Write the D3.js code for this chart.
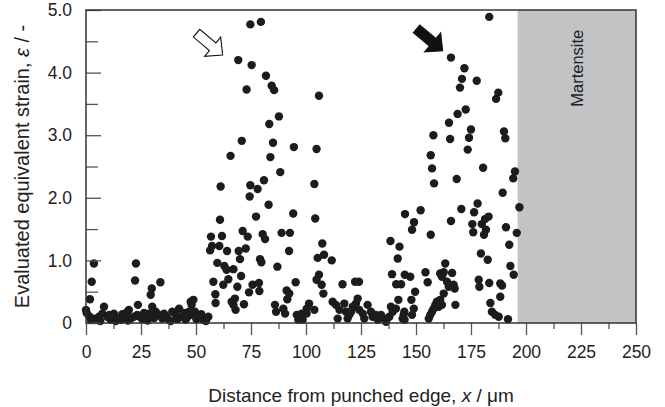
<!DOCTYPE html>
<html lang="en">
<head>
    <meta charset="UTF-8">
    <title>strain-scatter</title>
    <script src="https://cdn.jsdelivr.net/npm/d3@7"></script>
    <style>
        body { margin: 0; background: #fff; }
        svg { font-family: "Liberation Sans", Arial, sans-serif; }
    </style>
</head>
<body>
    <svg class="chart"></svg>
</body>
<script>
    // [distance from punched edge (um), equivalent strain]
    var edgeZone = [
        [0, 0.21], [0.3, 0.16], [1.8, 0.38], [2.6, 0.66], [3.6, 0.95], [1.4, 0.11], [2.2, 0.05], [3.6, 0.07],
        [5.9, 0.1], [6.5, 0.03], [7.4, 0.15], [8.2, 0.26], [9.7, 0.1], [10.5, 0.13], [11.2, 0.05], [12.7, 0.15],
        [13.5, 0.03], [14.2, 0.07], [15.8, 0.05], [16.5, 0.14], [17.3, 0.1], [18.8, 0.18], [19, 0.04], [19.5, 0.21],
        [20.3, 0.07], [21.8, 0.1], [22.3, 0.68], [22.7, 0.95], [23.3, 0.13], [23.6, 0.29], [24.5, 0.1], [25.6, 0.06],
        [26.4, 0.16], [27.1, 0.1], [28, 0.04], [28.6, 0.15], [29.4, 0.45], [29.9, 0.55], [30.1, 0.26], [31, 0.08],
        [31.7, 0.18], [33.2, 0.13], [33.8, 0.65], [34.7, 0.07], [35.5, 0.15], [36.5, 0.1], [37.7, 0.05], [38.5, 0.03],
        [39.2, 0.18], [40.8, 0.13], [41.5, 0.06], [42.3, 0.23], [43.8, 0.1], [44.5, 0.16], [45.3, 0.05], [46, 0.09],
        [46.8, 0.18], [47.6, 0.34], [48.3, 0.13], [48, 0.29], [48.8, 0.37], [49.5, 0.18], [50.2, 0.06], [51, 0.1],
        [52.4, 0.14], [53.3, 0.05], [54.5, 0.03], [55.6, 0.1]
    ];
    var firstBand = [
        [56.4, 1.16], [57.3, 1.23], [56.8, 1.38], [61.8, 1.39], [60.6, 1.23], [64.1, 1.15], [59.7, 0.96], [62.9, 0.91],
        [63.9, 0.85], [67, 0.86], [60.9, 1.65], [61.2, 2.18], [65.7, 2.67], [57.9, 0.66], [58.8, 0.46], [58.9, 0.32],
        [62.4, 0.61], [64.7, 0.7], [66.2, 0.34], [67, 0.29], [67.7, 0.39], [68, 0.21], [68.8, 0.58], [69.4, 1.15],
        [70, 1.02], [70.5, 0.75], [70.8, 2.91], [69.2, 4.2], [71.2, 1.47], [71.8, 0.3], [72.6, 1.19], [73, 3.73],
        [73.5, 1.38], [74.1, 0.49], [74.4, 2.02], [74.7, 2.2], [74.7, 4.77], [75.3, 4.12], [75.7, 0.61], [77.3, 1.7],
        [78, 2.14], [78.6, 0.64], [78.8, 0.51], [79.1, 1.02], [79.5, 4.81], [79.7, 0.97], [80.3, 1.42], [80.9, 2.28],
        [81.4, 1.34], [81.8, 3.95], [83, 1.89], [83.3, 3.18], [83.8, 2.65], [84.4, 3.79], [85, 2.88], [85.5, 3.72],
        [85.9, 0.29], [86.4, 0.18], [87, 0.9], [87.7, 3.3], [88.3, 2.41], [88.9, 1.44], [89.7, 0.23], [90.5, 0.15],
        [91.2, 0.52], [91.5, 0.38], [92.3, 1.15], [92.4, 0.47], [92.7, 1.44], [94.2, 1.75], [94.5, 2.81], [95.3, 0.65],
        [95.8, 0.13], [96.5, 0.05], [98, 0.15], [100.3, 0.23]
    ];
    var midZone = [
        [97, 0.07], [98.5, 0.05], [100.3, 0.15], [101.4, 0.31], [103.8, 0.21], [103.8, 2.22], [104.2, 1.67], [104.8, 2.78],
        [104.8, 0.69], [105.3, 1.04], [105.9, 0.77], [105.9, 3.63], [107.1, 0.61], [107.4, 1.27], [107.9, 0.47], [108.2, 1.09],
        [111.7, 1.0], [112.1, 0.34], [113.6, 0.29], [114.4, 0.07], [115.2, 0.21], [116.6, 0.62], [117.4, 0.31], [118.2, 0.18],
        [118.9, 0.07], [119.7, 0.13], [120.5, 0.18], [121.2, 0.26], [122.3, 0.66], [122.7, 0.31], [123.5, 0.39], [124.1, 0.66],
        [124.2, 0.21], [125.8, 0.15], [126.5, 0.07], [128, 0.29], [129.5, 0.18], [130.3, 0.1], [131.8, 0.13], [132.6, 0.05],
        [134.1, 0.13], [135.6, 0.07], [136.4, 0.02], [137.9, 0.1], [138.6, 0.26], [139.4, 0.18], [140.9, 0.23], [142, 0.37],
        [143.9, 0.07], [144.7, 0.18]
    ];
    var secondBand = [
        [138.4, 1.31], [142.5, 1.22], [141.7, 1.03], [139.1, 0.78], [141, 0.62], [143.2, 0.62], [144.9, 0.77], [147.4, 0.74],
        [145, 1.74], [149.1, 1.61], [148.2, 1.49], [149.6, 0.5], [147.9, 0.37], [149, 0.23], [148.2, 0.13], [144.4, 0.13],
        [144.8, 0.05], [152.1, 1.8], [154.3, 0.81], [155.3, 0.65], [155.8, 0.07], [156.5, 0.13], [157.3, 0.18], [158, 0.23],
        [158.8, 0.29], [159.5, 0.34], [160.3, 0.26], [161, 0.37], [161.8, 0.29], [162.6, 0.47], [156.7, 1.41], [156.7, 2.68],
        [157.3, 2.47], [157.9, 3.0], [158.2, 2.23], [161, 0.79], [162.6, 0.81], [161.8, 0.74], [163.3, 0.95], [164.1, 0.66],
        [164.9, 0.58], [165, 3.2], [165.5, 2.94], [165.9, 1.63], [165.9, 4.24], [166.4, 0.8], [167.1, 0.61], [167.6, 0.55],
        [167.9, 0.29], [168.5, 2.3], [168.9, 3.34], [170, 3.76], [170.6, 1.82], [170.9, 3.9], [172, 4.07], [172.6, 3.41],
        [173.5, 2.77], [174.1, 2.96], [175, 3.09], [175.6, 1.58], [176, 1.45], [176.4, 1.77], [177.6, 3.87], [178, 1.91],
        [178.5, 0.69], [178.8, 0.58], [179.5, 1.11], [179.9, 1.58], [180.5, 2.48], [180.9, 1.41], [181.4, 1.66], [181.8, 1.49],
        [182.6, 1.01], [183, 1.7], [183.3, 0.64], [183.3, 4.89], [183.8, 0.32], [184.5, 0.18], [186, 0.13], [186.4, 3.58],
        [187.4, 3.68], [187.6, 0.1], [188.3, 0.63], [189.1, 0.6], [188.3, 0.42], [189.4, 2.08], [190, 3.06], [190.6, 2.95],
        [190.9, 1.53], [191.8, 0.06], [192.4, 1.25], [192.9, 0.91], [194.2, 2.31], [194.4, 0.77], [195, 2.42], [195.8, 1.44],
        [197, 1.85]
    ];

    var xTicks = [0, 25, 50, 75, 100, 125, 150, 175, 200, 225, 250];
    var yTicks = [0, 1, 2, 3, 4, 5];
    var martensiteRange = [196.2, 250];
    // arrow tips [x, strain]
    var openArrow = [62.1, 4.28];
    var solidArrow = [162.1, 4.35];

    var width = 665, height = 407;
    var margin = {top: 10, right: 29, bottom: 84, left: 86};

    var x = d3.scaleLinear().domain([0, 250]).range([margin.left, width - margin.right]);
    var y = d3.scaleLinear().domain([0, 5]).range([height - margin.bottom, margin.top]);

    var svg = d3.select('.chart')
        .attr('width', width)
        .attr('height', height);

    // martensite zone
    svg.append('rect')
        .attr('x', x(martensiteRange[0]))
        .attr('y', y(5))
        .attr('width', x(martensiteRange[1]) - x(martensiteRange[0]))
        .attr('height', y(0) - y(5))
        .attr('fill', '#c2c3c5');

    svg.append('text')
        .attr('transform', 'translate(' + x(225.9) + ',' + y(4.07) + ') rotate(-90)')
        .attr('text-anchor', 'middle')
        .attr('font-size', 16.5)
        .attr('fill', '#222')
        .text('Martensite');

    // points
    var allPoints = edgeZone.concat(firstBand, midZone, secondBand);
    svg.append('g')
        .selectAll('circle')
        .data(allPoints)
        .enter()
        .append('circle')
        .attr('cx', function (d) { return x(d[0]); })
        .attr('cy', function (d) { return y(d[1]); })
        .attr('r', 4.2)
        .attr('fill', '#1e1b1c');

    // axes
    var fmtY = function (d) { return d === 0 ? '0' : d3.format('.1f')(d); };

    svg.append('g')
        .attr('transform', 'translate(0,' + y(0) + ')')
        .call(d3.axisBottom(x).tickValues(xTicks).tickSize(12).tickPadding(11));
    svg.append('g')
        .attr('transform', 'translate(0,' + y(0) + ')')
        .call(d3.axisBottom(x).tickValues(d3.range(12.5, 250, 25)).tickSize(6).tickFormat(''));

    svg.append('g')
        .attr('transform', 'translate(' + x(0) + ',0)')
        .call(d3.axisLeft(y).tickValues(yTicks).tickSize(-15).tickPadding(14).tickFormat(fmtY));
    svg.append('g')
        .attr('transform', 'translate(' + x(0) + ',0)')
        .call(d3.axisLeft(y).tickValues(d3.range(0.5, 5, 1)).tickSize(-12).tickFormat(''));

    svg.selectAll('.domain').remove();
    svg.selectAll('.tick line').attr('stroke', '#555').attr('stroke-width', 1.3);
    svg.selectAll('.tick text').attr('font-size', 17.5).attr('fill', '#222')
        .attr('font-family', '"Liberation Sans", Arial, sans-serif');

    // frame
    svg.append('rect')
        .attr('x', x(0))
        .attr('y', y(5))
        .attr('width', x(250) - x(0))
        .attr('height', y(0) - y(5))
        .attr('fill', 'none')
        .attr('stroke', '#333')
        .attr('stroke-width', 1.5);

    // arrows
    var arrowShape = [[0, 0], [-13, -12.5], [-13, -5], [-34, -5], [-34, 5], [-13, 5], [-13, 12.5]];
    function drawArrow(tip, fill) {
        svg.append('polygon')
            .attr('points', arrowShape.map(function (p) { return p.join(','); }).join(' '))
            .attr('transform', 'translate(' + x(tip[0]) + ',' + y(tip[1]) + ') rotate(40)')
            .attr('fill', fill)
            .attr('stroke', '#111')
            .attr('stroke-width', 1.1)
            .attr('stroke-linejoin', 'miter');
    }
    drawArrow(openArrow, '#fff');
    drawArrow(solidArrow, '#111');

    // axis titles
    var xLabel = svg.append('text')
        .attr('x', (x(0) + x(250)) / 2)
        .attr('y', 402)
        .attr('text-anchor', 'middle')
        .attr('font-size', 19)
        .attr('fill', '#222');
    xLabel.append('tspan').text('Distance from punched edge, ');
    xLabel.append('tspan').attr('font-style', 'italic').text('x');
    xLabel.append('tspan').text(' / μm');

    var yLabel = svg.append('text')
        .attr('transform', 'translate(29,' + (y(0) + y(5)) / 2 + ') rotate(-90)')
        .attr('text-anchor', 'middle')
        .attr('font-size', 20)
        .attr('fill', '#222');
    yLabel.append('tspan').text('Evaluated equivalent strain, ');
    yLabel.append('tspan').attr('font-style', 'italic').text('ε');
    yLabel.append('tspan').text(' / -');
</script>
</html>
